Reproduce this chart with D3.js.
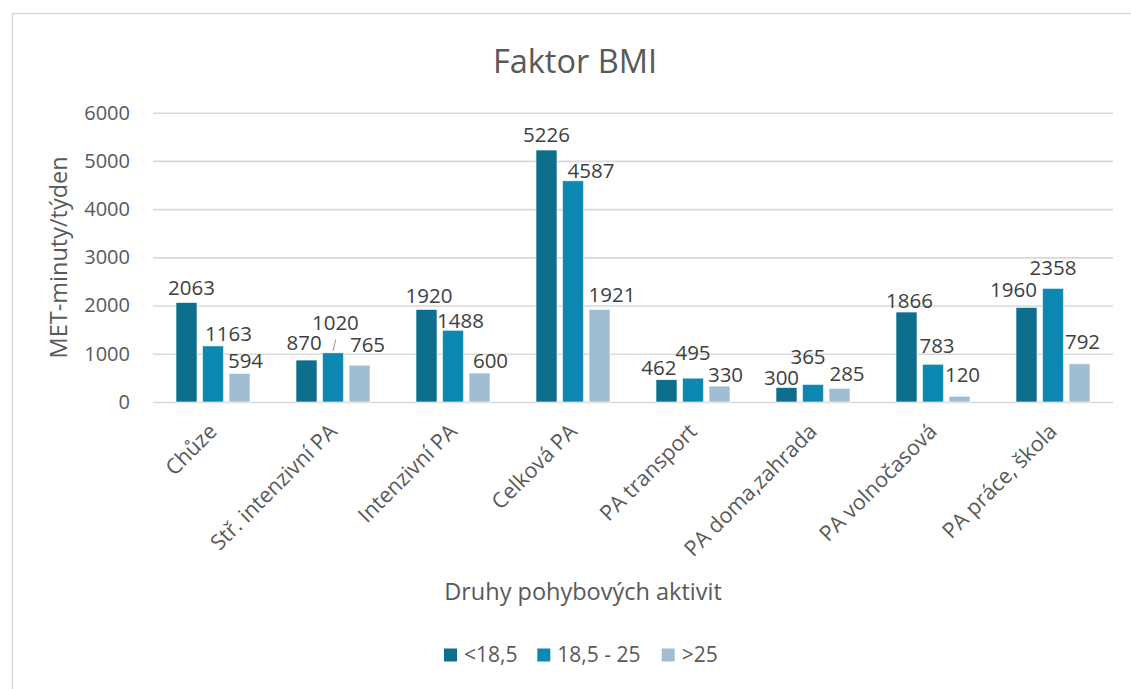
<!DOCTYPE html>
<html>
<head>
<meta charset="utf-8">
<script src="https://cdn.jsdelivr.net/npm/d3@7"></script>
<style>
  body { margin: 0; background: #fff; }
  svg text { font-family: "Open Sans", sans-serif; }
</style>
</head>
<body>
<div id="chart"></div>
<script>
// data
var categories = ["Chůze", "Stř. intenzivní PA", "Intenzivní PA", "Celková PA",
  "PA transport", "PA doma,zahrada", "PA volnočasová", "PA práce, škola"];
var seriesNames = ["<18,5", "18,5 - 25", ">25"];
var under185 = [2063, 870, 1920, 5226, 462, 300, 1866, 1960];
var mid185to25 = [1163, 1020, 1488, 4587, 495, 365, 783, 2358];
var over25 = [594, 765, 600, 1921, 330, 285, 120, 792];
var yTicks = [0, 1000, 2000, 3000, 4000, 5000, 6000];

var colors = ["#0e6e8e", "#0d88b2", "#a0bed3"];

// manual label nudges (dx, dy above bar top) like the excel chart
var labelNudge = [
  [[5, -8], [15.5, -5.3], [6, -5]],
  [[-2.3, -10], [2.4, -22.7], [8, -13.3]],
  [[2.5, -6.6], [7.5, -2.3], [11, -5.4]],
  [[0, -8.3], [18, -2.4], [12.5, -7.6]],
  [[-7.7, -5], [0, -17.7], [6, -4.3]],
  [[-5, -2.3], [-5, -20.7], [7.5, -7.7]],
  [[3, -4.3], [4, -11], [3, -14]],
  [[-13, -10.7], [0, -13.3], [3, -15]]
];

var svgWidth = 1131;
var svgHeight = 689;

var svg = d3.select("#chart")
  .append("svg")
  .attr("width", svgWidth)
  .attr("height", svgHeight);

// chart border
svg.append("rect")
  .attr("x", 12.5)
  .attr("y", 13.5)
  .attr("width", 1300)
  .attr("height", 900)
  .attr("fill", "none")
  .attr("stroke", "#d9d9d9")
  .attr("stroke-width", 1.5);

var plotLeft = 153, plotRight = 1113, plotTop = 112.7, plotBottom = 402;

var series = [under185, mid185to25, over25];
var rows = categories.map(function(c, i) {
  return { cat: c, vals: series.map(function(s) { return s[i]; }) };
});

var xScale = d3.scaleBand()
  .domain(categories)
  .range([plotLeft, plotRight])
  .padding(0);

var xInner = d3.scaleBand()
  .domain(seriesNames)
  .range([23, 97])
  .paddingInner(0.2075)
  .paddingOuter(0);

var yScale = d3.scaleLinear()
  .domain([0, 6000])
  .range([plotBottom, plotTop]);

// gridlines + y labels
var leftAxis = d3.axisLeft(yScale)
  .tickValues(yTicks)
  .tickFormat(d3.format("d"))
  .tickSizeInner(-(plotRight - plotLeft))
  .tickSizeOuter(0)
  .tickPadding(23);

var yAxisG = svg.append("g")
  .attr("transform", `translate(${plotLeft}, 0)`)
  .call(leftAxis);
yAxisG.select(".domain").remove();
yAxisG.selectAll("line")
  .attr("stroke", "#d9d9d9")
  .attr("stroke-width", 1.6);
yAxisG.selectAll("text")
  .attr("fill", "#595959")
  .style("font-size", "20px");

// x axis labels
var bottomAxis = d3.axisBottom(xScale).tickSize(0);
var xAxisG = svg.append("g")
  .attr("transform", `translate(0, ${plotBottom})`)
  .call(bottomAxis);
xAxisG.select(".domain").remove();
xAxisG.selectAll("text")
  .attr("fill", "#595959")
  .style("font-size", "21.5px")
  .attr("text-anchor", "end")
  .attr("y", 0)
  .attr("dy", "0.71em")
  .attr("transform", "translate(-5.5, 20) rotate(-45)");

// bars
var groups = svg.selectAll(".cat")
  .data(rows)
  .enter()
  .append("g")
  .attr("class", "cat")
  .attr("transform", d => `translate(${xScale(d.cat)}, 0)`);

groups.selectAll("rect")
  .data(d => d.vals)
  .enter()
  .append("rect")
  .attr("x", (d, j) => xInner(seriesNames[j]))
  .attr("y", d => yScale(d))
  .attr("width", xInner.bandwidth())
  .attr("height", d => plotBottom - yScale(d))
  .attr("fill", (d, j) => colors[j])
  .attr("stroke", "#fff")
  .attr("stroke-width", 0.6);

// data labels
groups.each(function(d, i) {
  var g = d3.select(this);
  d.vals.forEach(function(v, j) {
    var cx = xInner(seriesNames[j]) + xInner.bandwidth() / 2;
    var top = yScale(v);
    var nudge = labelNudge[i][j];
    g.append("text")
      .attr("x", cx + nudge[0])
      .attr("y", top + nudge[1])
      .attr("text-anchor", "middle")
      .attr("fill", "#404040")
      .style("font-size", "20.5px")
      .text(v);
    // leader line for the lifted label
    if (nudge[1] < -20 && i === 1) {
      g.append("line")
        .attr("x1", cx)
        .attr("y1", top - 2)
        .attr("x2", cx + 2.7)
        .attr("y2", top + nudge[1] + 9.3)
        .attr("stroke", "#a6a6a6")
        .attr("stroke-width", 1.2);
    }
  });
});

// title
svg.append("text")
  .attr("x", 575)
  .attr("y", 73)
  .attr("text-anchor", "middle")
  .attr("fill", "#595959")
  .style("font-size", "32.5px")
  .text("Faktor BMI");

// axis titles
svg.append("text")
  .attr("transform", `translate(67, ${(plotTop + plotBottom) / 2}) rotate(-90)`)
  .attr("text-anchor", "middle")
  .attr("fill", "#595959")
  .style("font-size", "23.5px")
  .text("MET-minuty/týden");

svg.append("text")
  .attr("x", 583)
  .attr("y", 600)
  .attr("text-anchor", "middle")
  .attr("fill", "#595959")
  .style("font-size", "23.5px")
  .text("Druhy pohybových aktivit");

// legend
var legendX = [444, 537.3, 661.7];
var legend = svg.selectAll(".legend")
  .data(seriesNames)
  .enter()
  .append("g")
  .attr("class", "legend")
  .attr("transform", (d, j) => `translate(${legendX[j]}, 648.5)`);

legend.append("rect")
  .attr("width", 13)
  .attr("height", 13)
  .attr("fill", (d, j) => colors[j]);

legend.append("text")
  .attr("x", 20)
  .attr("y", 13.5)
  .attr("fill", "#595959")
  .style("font-size", "21px")
  .text(d => d);
</script>
</body>
</html>
